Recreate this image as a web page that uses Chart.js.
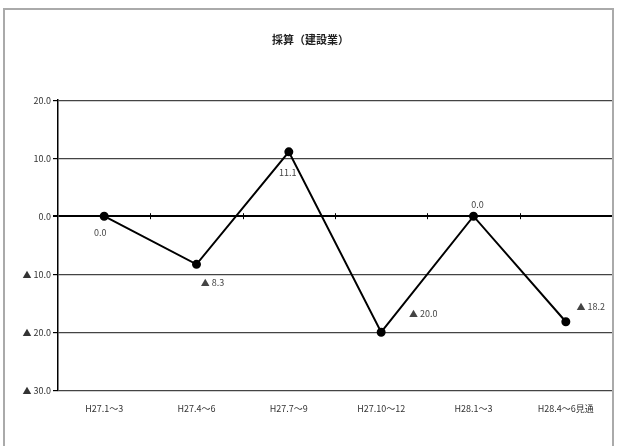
<!DOCTYPE html>
<html>
<head>
<meta charset="utf-8">
<script src="https://cdn.jsdelivr.net/npm/chart.js@4"></script>
<style>
  html, body { margin: 0; padding: 0; background: #fff; }
  #wrap { width: 618px; height: 446px; position: relative; }
</style>
</head>
<body>
<div id="wrap"><canvas id="grafico" width="618" height="446"></canvas></div>
<script>
// datos del gráfico
const categorias = ["H27.1～3", "H27.4～6", "H27.7～9", "H27.10～12", "H28.1～3", "H28.4～6見通"];
const saisan = [0.0, -8.3, 11.1, -20.0, 0.0, -18.2];
const titulo = "採算（建設業）";

const fmt = v => (v < 0 ? "▲ " + Math.abs(v).toFixed(1) : v.toFixed(1));

// desplazamiento de cada etiqueta respecto al punto
const offsets = [[-4, 16], [16, 18], [-1, 21], [42, -19], [4, -12], [25, -15]];

const extras = {
  id: "extras",
  beforeDraw(chart) {
    const c = chart.ctx;
    c.save();
    c.fillStyle = "#fff";
    c.fillRect(0, 0, chart.width, chart.height);
    c.strokeStyle = "#aaa";
    c.lineWidth = 2;
    c.strokeRect(4, 9, 609, 445);
    c.restore();
  },
  afterDatasetsDraw(chart) {
    const c = chart.ctx;
    const meta = chart.getDatasetMeta(0);
    const x = chart.scales.x, y = chart.scales.y;
    c.save();
    // marcas en la línea cero entre categorías
    c.strokeStyle = "#000";
    c.lineWidth = 1;
    const y0 = y.getPixelForValue(0);
    for (let i = 1; i < categorias.length; i++) {
      const px = (x.getPixelForValue(i - 1) + x.getPixelForValue(i)) / 2;
      c.beginPath();
      c.moveTo(Math.round(px) + 0.5, y0 - 3);
      c.lineTo(Math.round(px) + 0.5, y0 + 3);
      c.stroke();
    }
    c.font = "9px 'Noto Sans CJK JP', sans-serif";
    c.fillStyle = "#444";
    c.textAlign = "center";
    c.textBaseline = "middle";
    meta.data.forEach((p, i) => {
      c.fillText(fmt(saisan[i]), p.x + offsets[i][0], p.y + offsets[i][1]);
    });
    c.restore();
  }
};

new Chart(document.getElementById("grafico").getContext("2d"), {
  type: "line",
  data: {
    labels: categorias,
    datasets: [{
      data: saisan,
      borderColor: "#000",
      backgroundColor: "#000",
      borderWidth: 2,
      pointRadius: 3.5,
      pointBackgroundColor: "#000",
      tension: 0
    }]
  },
  options: {
    responsive: false,
    animation: false,
    layout: { padding: { left: 8, right: 5, top: 0, bottom: 19 } },
    plugins: {
      legend: { display: false },
      tooltip: { enabled: false },
      title: {
        display: true,
        text: titulo,
        color: "#222",
        font: { family: "'Noto Sans CJK JP', sans-serif", size: 11, weight: "bold" },
        padding: { top: 33, bottom: 54 }
      }
    },
    scales: {
      x: {
        offset: true,
        grid: { display: false, drawTicks: false },
        border: { display: false },
        ticks: {
          color: "#333",
          padding: 13,
          maxRotation: 0,
          autoSkip: false,
          font: { family: "'Noto Sans CJK JP', sans-serif", size: 9 }
        }
      },
      y: {
        min: -30,
        max: 20,
        afterFit(s) { s.width = 50; },
        grid: {
          color: ctx => (ctx.tick && ctx.tick.value === 0 ? "#000" : "#444"),
          lineWidth: ctx => (ctx.tick && ctx.tick.value === 0 ? 2 : 1.2),
          tickLength: 5,
          tickColor: "#000"
        },
        border: { color: "#000", width: 1.5 },
        ticks: {
          stepSize: 10,
          color: "#333",
          padding: 2,
          font: { family: "'Noto Sans CJK JP', sans-serif", size: 9 },
          callback: v => fmt(v)
        }
      }
    }
  },
  plugins: [extras]
});
</script>
</body>
</html>
